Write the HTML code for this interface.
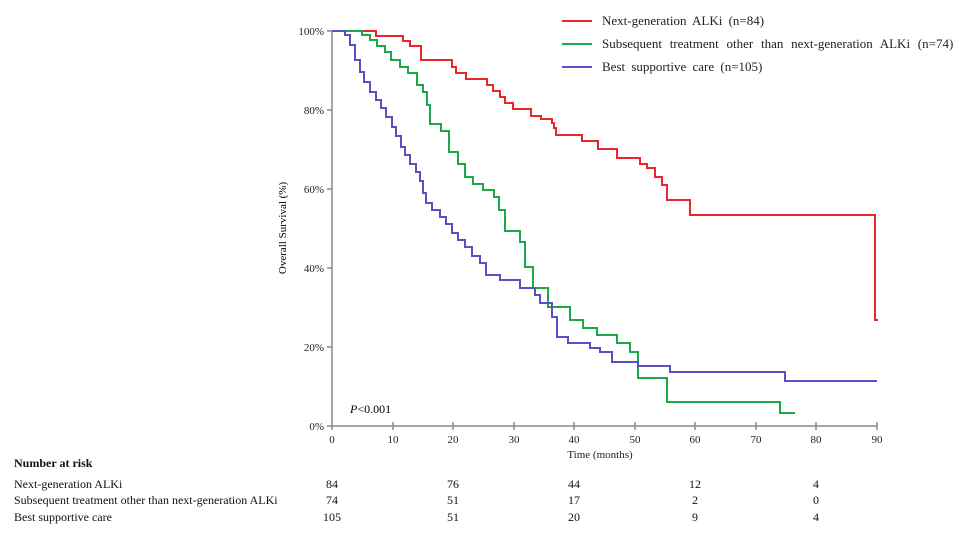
<!DOCTYPE html><html><head><style>body{margin:0;background:#fff}</style></head><body>
<svg width="960" height="545" xmlns="http://www.w3.org/2000/svg" font-family="Liberation Serif, serif" font-size="12">
<rect width="960" height="545" fill="#fff"/>
<g stroke="#888" stroke-width="1.5" fill="none">
<path d="M332,31V426H877"/>
<path d="M327,31H332M327,110H332M327,189H332M327,268H332M327,347H332M327,426H332"/>
<path d="M332,426v4M393,422v8M453,422v8M514,422v8M574,422v8M635,422v8M695,422v8M756,422v8M816,422v8M877,422v8"/>
</g>
<g font-size="11" text-anchor="end" fill="#222">
<text x="324" y="35">100%</text><text x="324" y="114">80%</text><text x="324" y="193">60%</text><text x="324" y="272">40%</text><text x="324" y="351">20%</text><text x="324" y="430">0%</text></g>
<g font-size="11" text-anchor="middle" fill="#222">
<text x="332" y="443">0</text><text x="393" y="443">10</text><text x="453" y="443">20</text><text x="514" y="443">30</text><text x="574" y="443">40</text><text x="635" y="443">50</text><text x="695" y="443">60</text><text x="756" y="443">70</text><text x="816" y="443">80</text><text x="877" y="443">90</text>
<text x="600" y="458">Time (months)</text></g>
<text transform="translate(286,228) rotate(-90)" text-anchor="middle" font-size="11">Overall Survival (%)</text>
<text x="350" y="413" font-size="12"><tspan font-style="italic">P</tspan>&lt;0.001</text>
<g fill="none" stroke-width="2">
<path stroke="#e8262b" d="M332,31H376V36H403V41H410V46H421V60H452V67H456V73H466V79H487V85H493V91H500V97H505V103H513V109H531V116H541V119H552V123H554V128H556V135H582V141H598V149H617V158H640V164H647V168H655V177H662V185H667V200H690V215H875V320H878"/>
<path stroke="#1aa84a" d="M332,31H362V35H370V40H377V46H385V52H391V60H400V67H408V73H417V85H423V92H427V105H430V124H441V131H449V152H458V164H465V177H473V184H483V190H494V197H499V210H505V231H520V242H525V267H533V288H548V307H570V320H583V328H597V335H617V343H630V352H638V378H667V402H780V413H795"/>
<path stroke="#5b4fc4" d="M332,31H345V35H350V45H355V60H360V72H364V82H370V92H376V100H381V108H386V117H392V127H396V136H401V147H405V155H410V164H416V172H420V181H423V193H426V203H432V210H440V217H446V224H452V233H458V240H465V247H472V256H480V263H486V275H500V280H520V288H535V295H540V303H552V317H557V337H568V343H590V348H600V352H612V362H638V366H670V372H785V381H877"/>
</g>
<g stroke-width="2"><line x1="562" y1="21" x2="592" y2="21" stroke="#e8262b"/><line x1="562" y1="44" x2="592" y2="44" stroke="#1aa84a"/><line x1="562" y1="67" x2="592" y2="67" stroke="#5b4fc4"/></g>
<g font-size="13" fill="#222"><text x="602" y="25" word-spacing="3">Next-generation ALKi (n=84)</text><text x="602" y="48" word-spacing="4.5">Subsequent treatment other than next-generation ALKi (n=74)</text><text x="602" y="71" word-spacing="3">Best supportive care (n=105)</text></g>
<g font-size="12" fill="#111">
<text x="14" y="467" font-weight="bold">Number at risk</text>
<text x="14" y="488">Next-generation ALKi</text>
<text x="14" y="504">Subsequent treatment other than next-generation ALKi</text>
<text x="14" y="521">Best supportive care</text></g>
<g font-size="12" fill="#111" text-anchor="middle">
<text x="332" y="488">84</text><text x="453" y="488">76</text><text x="574" y="488">44</text><text x="695" y="488">12</text><text x="816" y="488">4</text>
<text x="332" y="504">74</text><text x="453" y="504">51</text><text x="574" y="504">17</text><text x="695" y="504">2</text><text x="816" y="504">0</text>
<text x="332" y="521">105</text><text x="453" y="521">51</text><text x="574" y="521">20</text><text x="695" y="521">9</text><text x="816" y="521">4</text></g>
</svg></body></html>
